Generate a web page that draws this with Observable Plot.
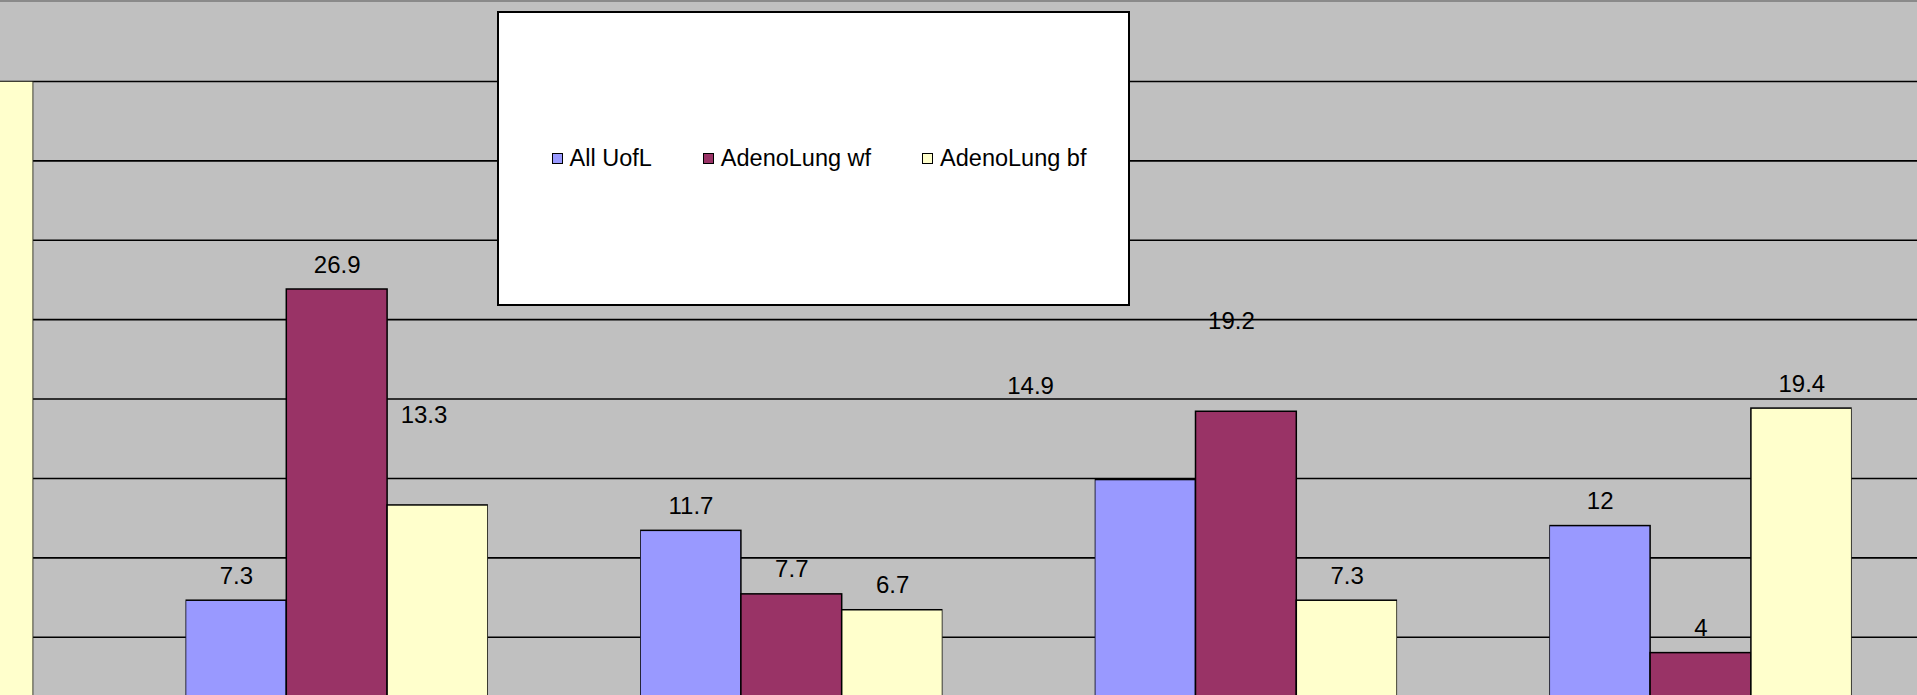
<!DOCTYPE html>
<html>
<head>
<meta charset="utf-8">
<script src="https://cdn.jsdelivr.net/npm/d3@7"></script>
<script src="https://cdn.jsdelivr.net/npm/@observablehq/plot@0.6"></script>
<style>
  html, body { margin: 0; padding: 0; background: #c0c0c0; overflow: hidden; }
  #chart { position: relative; width: 1917px; height: 695px; font-family: "Liberation Sans", Arial, sans-serif; }
  #chart svg { display: block; position: absolute; left: 0; top: 0; }
  #topline { position: absolute; left: 0; top: 0; width: 100%; height: 2px; background: #8a8a8a; }
  #legend {
    position: absolute; left: 497px; top: 11px; width: 633px; height: 295px; box-sizing: border-box;
    background: #fff; border: 2px solid #000; padding-left: 11px;
    display: flex; align-items: center; justify-content: center; gap: 51px;
    font-size: 23.5px; color: #000;
  }
  #legend .item { display: flex; align-items: center; gap: 7px; }
  #legend .sw { width: 11px; height: 11px; box-sizing: border-box; border: 1.5px solid #000; }
</style>
</head>
<body>
<div id="chart"></div>
<script>
// Categories (the first one is only partly in view) and the three series
const groups = ["Group 1", "Group 2", "Group 3", "Group 4", "Group 5"];
const series = ["All UofL", "AdenoLung wf", "AdenoLung bf"];

// Values per series, one per group (null = no bar in view)
const allUofL     = [null, 7.3, 11.7, 14.9, 12];
const adenoLungWf = [null, 26.9, 7.7, 19.2, 4];
const adenoLungBf = [40, 13.3, 6.7, 7.3, 19.4];

// Gridline values
const gridValues = [5, 10, 15, 20, 25, 30, 35, 40];

const seriesColors = ["#9999ff", "#993366", "#ffffcc"];

// Some value labels sit away from their bars: [dx, dy] nudges
const labelNudges = new Map([
  ["Group 2|AdenoLung bf", [-14, -65]],
  ["Group 4|All UofL", [-115, -69]],
  ["Group 4|AdenoLung wf", [-15, -66]]
]);

const valuesBySeries = [allUofL, adenoLungWf, adenoLungBf];
const rows = groups.flatMap((g, gi) =>
  series.map((s, si) => ({group: g, series: s, value: valuesBySeries[si][gi]}))
).filter(d => d.value != null);

// Only the groups fully in view carry value labels
const labelled = rows.filter(d => d.group !== groups[0]);
const key = d => `${d.group}|${d.series}`;
const plainLabels = labelled.filter(d => !labelNudges.has(key(d)));
const nudgedLabels = labelled.filter(d => labelNudges.has(key(d)));

// Shared frame and value scale for both layers
const frame = {
  width: 1917,
  height: 695,
  marginTop: 81,
  marginBottom: 0,
  marginLeft: 0,
  marginRight: 0,
  style: {background: "transparent", fontFamily: "'Liberation Sans', Arial, sans-serif", overflow: "hidden"},
  y: {domain: [1.33, 40], axis: null}
};

// Back layer: horizontal gridlines across the whole width
const grid = Plot.plot({
  ...frame,
  marks: [Plot.ruleY(gridValues, {stroke: "#000", strokeWidth: 1.6})]
});

const textOpts = {
  fx: "group", x: "series", y: "value",
  text: d => String(d.value),
  lineAnchor: "bottom", fontSize: 24, fill: "#000"
};

// Front layer: grouped bars and their value labels
const bars = Plot.plot({
  ...frame,
  fx: {domain: groups, range: [-269.1, 1851.7], paddingInner: 0.3348, paddingOuter: 0, round: false, axis: null, label: null},
  x: {domain: series, padding: 0, round: false, axis: null},
  color: {domain: series, range: seriesColors},
  marks: [
    Plot.barY(rows, {
      fx: "group", x: "series", y: "value",
      fill: "series", stroke: "#000", strokeWidth: 1.5, clip: true
    }),
    Plot.text(plainLabels, {...textOpts, dy: -17}),
    ...nudgedLabels.map(d => {
      const [dx, dy] = labelNudges.get(key(d));
      return Plot.text([d], {...textOpts, dx, dy: -17 + dy});
    })
  ]
});

const host = document.getElementById("chart");
host.append(grid, bars);

const topline = document.createElement("div");
topline.id = "topline";
host.append(topline);

// Legend box laid over the plot
const legend = document.createElement("div");
legend.id = "legend";
series.forEach((s, i) => {
  const item = document.createElement("div");
  item.className = "item";
  const sw = document.createElement("span");
  sw.className = "sw";
  sw.style.background = seriesColors[i];
  const label = document.createElement("span");
  label.textContent = s;
  item.append(sw, label);
  legend.append(item);
});
host.append(legend);
</script>
</body>
</html>
